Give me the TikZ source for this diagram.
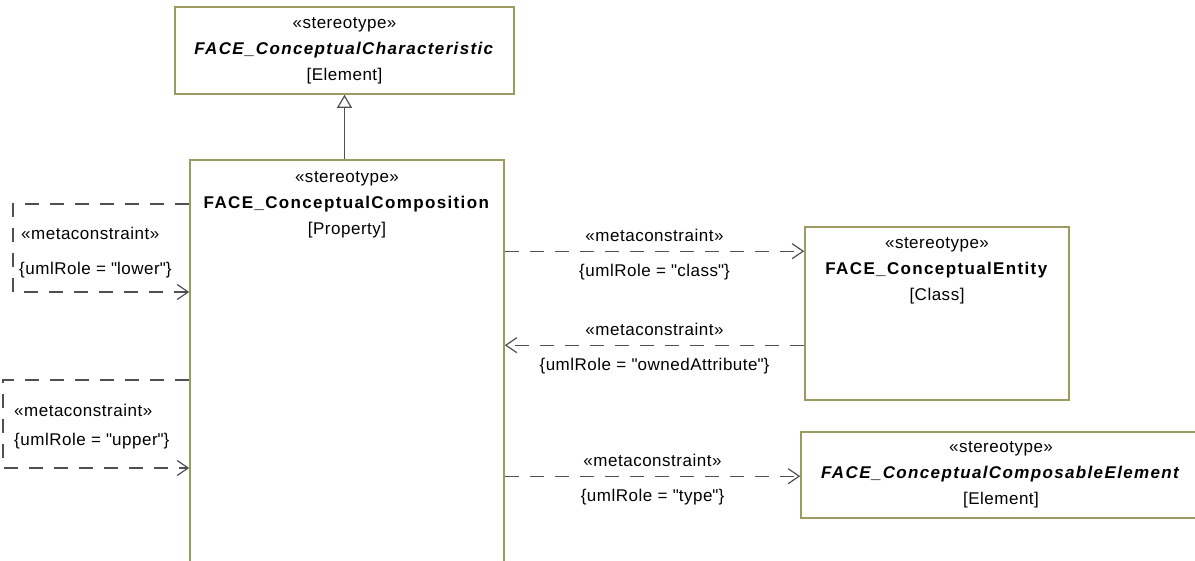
\documentclass[tikz,border=0pt]{standalone}
\usepackage{fontspec}
\setmainfont{Liberation Sans}[LetterSpace=3, BoldFeatures={LetterSpace=8}, BoldItalicFeatures={LetterSpace=8}]
\usetikzlibrary{arrows.meta, calc, positioning}
\definecolor{boxline}{RGB}{155,155,95}
\definecolor{linkline}{RGB}{80,80,80}
\newcommand{\dq}{\textquotedbl}

\begin{document}
\begin{tikzpicture}[x=1pt, y=-1pt, font=\fontsize{17}{26}\selectfont,
  umlbox/.style={draw=boxline, line width=1.6pt, fill=white, inner sep=0pt},
  title/.style={align=center, inner sep=0pt},
  meta/.style={draw=linkline, line width=1.2pt, dash pattern=on 14pt off 11pt, -{Straight Barb[length=11pt,width=15pt]}},
  gen/.style={draw=linkline, line width=1.2pt, -{Triangle[length=13pt,width=15pt,fill=white]}},
  tag/.style={inner sep=1pt, text height=12.5pt, text depth=3.5pt}]
  \useasboundingbox (0,0) rectangle (1195,561);
  \clip (0,0) rectangle (1195,561);
  % stereotypes
  \node[umlbox, minimum width=339pt, minimum height=87pt, align=center] (char) at (344.5,50.5)
    {«stereotype»\\ \textbf{\textit{FACE\_ConceptualCharacteristic}}\\ {[Element]}};
  \node[umlbox, anchor=north, minimum width=314pt, minimum height=460pt] (comp) at (347,159) {};
  \node[title, below=12pt of comp.north] (comptitle)
    {«stereotype»\\ \textbf{FACE\_ConceptualComposition}\\ {[Property]}};
  \node[umlbox, minimum width=264pt, minimum height=173pt] (ent) at (937,313.5) {};
  \node[title, below=11pt of ent.north] (enttitle)
    {«stereotype»\\ \textbf{FACE\_ConceptualEntity}\\ {[Class]}};
  \node[umlbox, minimum width=400pt, minimum height=86pt, align=center] (elem) at (1001,475)
    {«stereotype»\\ \textbf{\textit{FACE\_ConceptualComposableElement}}\\ {[Element]}};
  % generalization
  \draw[gen] (comp.north -| char.south) -- (char.south);
  % metaconstraints to the right
  \coordinate (clsin) at ($(ent.north west)+(0,25)$);
  \coordinate (ownout) at ($(ent.north west)+(0,119)$);
  \coordinate (typein) at ($(elem.north west)+(0,45)$);
  \draw[meta] (comp.east |- clsin) -- (clsin)
    node[tag, midway, above=5pt] {«metaconstraint»}
    node[tag, midway, below=11pt] {\{umlRole = \dq class\dq\}};
  \draw[meta] (ownout) -- (comp.east |- ownout)
    node[tag, midway, above=5pt] {«metaconstraint»}
    node[tag, midway, below=11pt] {\{umlRole = \dq ownedAttribute\dq\}};
  \draw[meta] (comp.east |- typein) -- (typein)
    node[tag, midway, above=5pt] {«metaconstraint»}
    node[tag, midway, below=11pt] {\{umlRole = \dq type\dq\}};
  % self loops on the left
  \coordinate (lwrtop) at (13,204);
  \coordinate (lwrbot) at (13,292);
  \draw[meta] (comp.west |- lwrtop) -- (lwrtop) -- (lwrbot) -- (comp.west |- lwrbot);
  \node[tag, anchor=west] (lwrmeta) at (20,235) {«metaconstraint»};
  \node[tag, anchor=west] (lwrrole) at (18,270) {\{umlRole = \dq lower\dq\}};
  \coordinate (uprtop) at (3,380);
  \coordinate (uprbot) at (3,468);
  \draw[meta] (comp.west |- uprtop) -- (uprtop) -- (uprbot) -- (comp.west |- uprbot);
  \node[tag, anchor=west] (uprmeta) at (13,412) {«metaconstraint»};
  \node[tag, anchor=west] (uprrole) at (13,441) {\{umlRole = \dq upper\dq\}};
\end{tikzpicture}
\end{document}
